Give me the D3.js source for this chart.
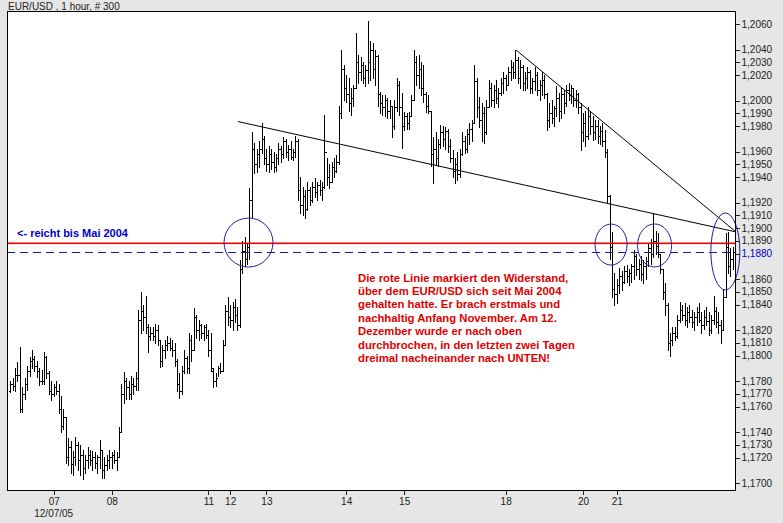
<!DOCTYPE html>
<html><head><meta charset="utf-8">
<script src="https://cdn.jsdelivr.net/npm/d3@7"></script>
<style>body{margin:0;background:#e6e6e6;} svg{display:block;font-family:"Liberation Sans",Arial,sans-serif;}</style>
</head><body><svg id="chart" width="783" height="523"></svg>
<script>
const title = "EUR/USD , 1 hour, # 300";
const highs = [
1.1780,1.1782,1.1790,1.1795,1.1807,1.1775,1.1782,1.1792,1.1799,1.1804,
1.1800,1.1796,1.1790,1.1789,1.1803,1.1800,1.1788,1.1780,1.1778,1.1780,
1.1778,1.1768,1.1758,1.1752,1.1735,1.1733,1.1725,1.1736,1.1732,1.1730,
1.1726,1.1722,1.1728,1.1726,1.1725,1.1724,1.1722,1.1734,1.1726,1.1720,
1.1722,1.1726,1.1724,1.1726,1.1724,1.1744,1.1778,1.1787,1.1782,1.1780,
1.1784,1.1782,1.1787,1.1836,1.1850,1.1840,1.1847,1.1825,1.1822,1.1822,
1.1825,1.1824,1.1812,1.1808,1.1812,1.1815,1.1814,1.1812,1.1810,1.1797,
1.1786,1.1792,1.1804,1.1800,1.1818,1.1816,1.1837,1.1832,1.1828,1.1825,
1.1824,1.1825,1.1820,1.1818,1.1790,1.1786,1.1792,1.1794,1.1812,1.1840,
1.1846,1.1840,1.1842,1.1844,1.1838,1.1875,1.1890,1.1893,1.1888,1.1931,
1.1975,1.1967,1.1962,1.1968,1.1982,1.1972,1.1962,1.1964,1.1962,1.1960,
1.1958,1.1967,1.1964,1.1971,1.1970,1.1965,1.1968,1.1962,1.1972,1.1970,
1.1940,1.1932,1.1930,1.1936,1.1932,1.1936,1.1939,1.1936,1.1938,1.1936,
1.1989,1.1955,1.1950,1.1952,1.1955,1.1957,1.1996,1.2040,1.2028,1.2020,
1.2018,1.2010,1.2012,1.2053,1.2036,1.2034,1.2030,1.2028,1.2062,1.2047,
1.2045,1.2040,1.2036,1.2007,1.2004,1.2004,1.2002,1.2000,1.1996,1.2000,
1.2018,1.2015,1.2006,1.1991,1.1990,1.1991,1.2004,1.2040,1.2035,1.2036,
1.2030,1.2028,1.2007,1.2004,1.1992,1.1971,1.1975,1.1970,1.1981,1.1980,
1.1979,1.1978,1.1970,1.1961,1.1955,1.1960,1.1962,1.1975,1.1972,1.1978,
1.1982,1.1985,1.2028,1.2018,1.2003,1.1998,1.1995,1.2000,1.2016,1.2014,
1.2012,1.2016,1.2010,1.2018,1.2022,1.2020,1.2026,1.2032,1.2030,1.2040,
1.2034,1.2032,1.2028,1.2022,1.2026,1.2024,1.2018,1.2026,1.2022,1.2016,
1.2022,1.2020,1.2006,1.1998,1.2000,1.1996,1.2011,1.2006,1.2010,1.2008,
1.2012,1.2014,1.2012,1.2010,1.2008,1.2006,1.1998,1.1990,1.1992,1.1995,
1.1992,1.1988,1.1985,1.1985,1.1980,1.1982,1.1977,1.1962,1.1926,1.1897,
1.1865,1.1860,1.1869,1.1866,1.1870,1.1871,1.1868,1.1872,1.1883,1.1880,
1.1876,1.1878,1.1875,1.1877,1.1888,1.1891,1.1912,1.1898,1.1896,1.1880,
1.1868,1.1857,1.1841,1.1818,1.1822,1.1822,1.1832,1.1842,1.1840,1.1841,
1.1838,1.1840,1.1836,1.1834,1.1838,1.1841,1.1834,1.1836,1.1838,1.1834,
1.1832,1.1847,1.1838,1.1834,1.1828,1.1851,1.1896,1.1897,1.1884,1.1885];
const lows = [
1.1771,1.1773,1.1772,1.1780,1.1756,1.1756,1.1766,1.1773,1.1784,1.1790,
1.1788,1.1783,1.1777,1.1778,1.1778,1.1782,1.1770,1.1765,1.1768,1.1770,
1.1755,1.1740,1.1742,1.1716,1.1714,1.1708,1.1706,1.1714,1.1710,1.1706,
1.1703,1.1708,1.1712,1.1714,1.1710,1.1712,1.1708,1.1712,1.1704,1.1704,
1.1710,1.1712,1.1712,1.1716,1.1710,1.1720,1.1740,1.1763,1.1766,1.1766,
1.1766,1.1770,1.1773,1.1773,1.1818,1.1820,1.1818,1.1803,1.1812,1.1812,
1.1810,1.1808,1.1791,1.1792,1.1798,1.1804,1.1804,1.1800,1.1792,1.1772,
1.1767,1.1770,1.1786,1.1786,1.1786,1.1796,1.1804,1.1814,1.1812,1.1814,
1.1812,1.1814,1.1800,1.1788,1.1775,1.1776,1.1784,1.1786,1.1788,1.1808,
1.1824,1.1822,1.1820,1.1826,1.1820,1.1822,1.1865,1.1870,1.1872,1.1876,
1.1909,1.1943,1.1944,1.1948,1.1959,1.1950,1.1945,1.1944,1.1946,1.1944,
1.1945,1.1950,1.1952,1.1955,1.1956,1.1953,1.1954,1.1953,1.1956,1.1922,
1.1912,1.1910,1.1908,1.1914,1.1918,1.1920,1.1924,1.1922,1.1926,1.1922,
1.1931,1.1934,1.1931,1.1936,1.1940,1.1944,1.1950,1.1986,1.2000,1.1999,
1.1992,1.1989,1.1996,1.2010,1.2014,1.2016,1.2014,1.2011,1.2014,1.2016,
1.2018,1.2012,1.1996,1.1990,1.1989,1.1988,1.1986,1.1986,1.1971,1.1978,
1.1992,1.1989,1.1963,1.1977,1.1978,1.1978,1.1988,1.2000,1.2012,1.2010,
1.2004,1.1999,1.1991,1.1990,1.1949,1.1935,1.1950,1.1949,1.1963,1.1964,
1.1962,1.1960,1.1952,1.1940,1.1935,1.1938,1.1940,1.1957,1.1959,1.1960,
1.1966,1.1968,1.1982,1.1987,1.1979,1.1968,1.1967,1.1974,1.1995,1.1996,
1.1995,1.1998,1.1995,1.2004,1.2006,1.2008,1.2012,1.2016,1.2018,1.2018,
1.2014,1.2010,1.2008,1.2008,1.2010,1.2006,1.2006,1.2008,1.2004,1.2000,
1.2004,1.2002,1.1977,1.1979,1.1982,1.1980,1.1988,1.1984,1.1986,1.1990,
1.1996,1.2000,1.1998,1.1996,1.1995,1.1990,1.1961,1.1968,1.1964,1.1970,
1.1974,1.1969,1.1970,1.1967,1.1966,1.1964,1.1956,1.1920,1.1876,1.1846,
1.1840,1.1841,1.1849,1.1851,1.1857,1.1858,1.1855,1.1858,1.1860,1.1863,
1.1860,1.1859,1.1857,1.1860,1.1870,1.1872,1.1877,1.1880,1.1877,1.1865,
1.1844,1.1832,1.1804,1.1800,1.1808,1.1812,1.1814,1.1826,1.1828,1.1824,
1.1822,1.1826,1.1822,1.1820,1.1824,1.1826,1.1818,1.1821,1.1824,1.1816,
1.1818,1.1825,1.1822,1.1818,1.1810,1.1820,1.1846,1.1865,1.1862,1.1868];
const opens = [
1.1772,1.1778,1.1776,1.1785,1.1785,1.1758,1.1770,1.1778,1.1788,1.1796,
1.1797,1.1792,1.1788,1.1780,1.1780,1.1799,1.1786,1.1772,1.1770,1.1775,
1.1772,1.1758,1.1745,1.1752,1.1720,1.1728,1.1715,1.1720,1.1730,1.1718,
1.1722,1.1712,1.1718,1.1722,1.1718,1.1720,1.1716,1.1720,1.1726,1.1710,
1.1714,1.1718,1.1720,1.1722,1.1718,1.1720,1.1740,1.1770,1.1780,1.1775,
1.1770,1.1778,1.1776,1.1782,1.1828,1.1835,1.1830,1.1822,1.1815,1.1818,
1.1815,1.1820,1.1812,1.1796,1.1804,1.1808,1.1810,1.1806,1.1804,1.1796,
1.1778,1.1772,1.1788,1.1798,1.1790,1.1812,1.1804,1.1830,1.1820,1.1824,
1.1818,1.1822,1.1816,1.1804,1.1788,1.1780,1.1782,1.1790,1.1788,1.1808,
1.1835,1.1830,1.1828,1.1838,1.1832,1.1824,1.1868,1.1882,1.1876,1.1885,
1.1922,1.1962,1.1950,1.1958,1.1962,1.1970,1.1955,1.1950,1.1958,1.1952,
1.1948,1.1955,1.1962,1.1958,1.1968,1.1960,1.1962,1.1956,1.1960,1.1968,
1.1930,1.1918,1.1925,1.1915,1.1930,1.1922,1.1932,1.1928,1.1934,1.1930,
1.1932,1.1960,1.1940,1.1936,1.1948,1.1945,1.1952,1.1990,1.2025,1.2010,
1.2005,1.1998,1.2002,1.2010,1.2030,1.2022,1.2028,1.2018,1.2024,1.2030,
1.2040,1.2025,1.2035,1.2005,1.1998,1.1995,1.2000,1.1992,1.1996,1.1980,
1.1995,1.2012,1.1995,1.1980,1.1988,1.1982,1.1988,1.2000,1.2030,1.2020,
1.2025,1.2010,1.2005,1.1996,1.1992,1.1958,1.1962,1.1955,1.1966,1.1975,
1.1970,1.1976,1.1964,1.1955,1.1945,1.1950,1.1942,1.1958,1.1968,1.1962,
1.1974,1.1978,1.1982,1.2015,1.1995,1.1985,1.1990,1.1975,1.1995,1.2010,
1.2000,1.2008,1.2002,1.2006,1.2014,1.2018,1.2012,1.2022,1.2026,1.2022,
1.2032,1.2018,1.2026,1.2014,1.2018,1.2022,1.2010,1.2015,1.2020,1.2008,
1.2012,1.2016,1.2005,1.1985,1.1990,1.1986,1.1994,1.2002,1.1992,1.2005,
1.1998,1.2008,1.2004,1.2010,1.2000,1.2005,1.1995,1.1975,1.1982,1.1972,
1.1988,1.1980,1.1975,1.1980,1.1972,1.1976,1.1968,1.1960,1.1925,1.1885,
1.1852,1.1848,1.1855,1.1862,1.1858,1.1866,1.1862,1.1865,1.1870,1.1878,
1.1868,1.1872,1.1864,1.1870,1.1874,1.1884,1.1880,1.1890,1.1886,1.1880,
1.1868,1.1850,1.1840,1.1810,1.1812,1.1818,1.1815,1.1828,1.1836,1.1832,
1.1828,1.1834,1.1830,1.1826,1.1830,1.1834,1.1828,1.1824,1.1830,1.1827,
1.1820,1.1828,1.1835,1.1826,1.1824,1.1820,1.1846,1.1885,1.1870,1.1876];
const closes = [
1.1778,1.1776,1.1785,1.1785,1.1758,1.1770,1.1778,1.1788,1.1796,1.1797,
1.1792,1.1788,1.1780,1.1780,1.1799,1.1786,1.1772,1.1770,1.1775,1.1772,
1.1758,1.1745,1.1752,1.1720,1.1728,1.1715,1.1720,1.1730,1.1718,1.1722,
1.1712,1.1718,1.1722,1.1718,1.1720,1.1716,1.1720,1.1726,1.1710,1.1714,
1.1718,1.1720,1.1722,1.1718,1.1720,1.1740,1.1770,1.1780,1.1775,1.1770,
1.1778,1.1776,1.1782,1.1828,1.1835,1.1830,1.1822,1.1815,1.1818,1.1815,
1.1820,1.1812,1.1796,1.1804,1.1808,1.1810,1.1806,1.1804,1.1796,1.1778,
1.1772,1.1788,1.1798,1.1790,1.1812,1.1804,1.1830,1.1820,1.1824,1.1818,
1.1822,1.1816,1.1804,1.1790,1.1780,1.1782,1.1790,1.1788,1.1808,1.1835,
1.1830,1.1828,1.1838,1.1832,1.1824,1.1868,1.1882,1.1876,1.1885,1.1922,
1.1962,1.1950,1.1958,1.1962,1.1970,1.1955,1.1950,1.1958,1.1952,1.1948,
1.1955,1.1962,1.1958,1.1968,1.1960,1.1962,1.1956,1.1960,1.1968,1.1930,
1.1918,1.1925,1.1915,1.1930,1.1922,1.1932,1.1928,1.1934,1.1930,1.1932,
1.1960,1.1940,1.1936,1.1948,1.1945,1.1952,1.1990,1.2025,1.2010,1.2005,
1.1998,1.2002,1.2010,1.2030,1.2022,1.2028,1.2018,1.2024,1.2030,1.2040,
1.2025,1.2035,1.2005,1.1998,1.1995,1.2000,1.1992,1.1996,1.1980,1.1995,
1.2012,1.1995,1.1980,1.1988,1.1982,1.1988,1.2000,1.2030,1.2020,1.2025,
1.2010,1.2005,1.1996,1.1992,1.1958,1.1962,1.1955,1.1966,1.1975,1.1970,
1.1976,1.1964,1.1955,1.1945,1.1950,1.1942,1.1958,1.1968,1.1962,1.1974,
1.1978,1.1982,1.2015,1.1995,1.1985,1.1990,1.1975,1.1995,1.2010,1.2000,
1.2008,1.2002,1.2006,1.2014,1.2018,1.2012,1.2022,1.2026,1.2022,1.2032,
1.2018,1.2026,1.2014,1.2018,1.2022,1.2010,1.2015,1.2020,1.2008,1.2012,
1.2016,1.2005,1.1985,1.1990,1.1986,1.1994,1.2002,1.1992,1.2005,1.1998,
1.2008,1.2004,1.2010,1.2000,1.2005,1.1995,1.1975,1.1982,1.1972,1.1988,
1.1980,1.1975,1.1980,1.1972,1.1976,1.1968,1.1960,1.1925,1.1885,1.1852,
1.1848,1.1855,1.1862,1.1858,1.1866,1.1862,1.1865,1.1870,1.1878,1.1868,
1.1872,1.1864,1.1870,1.1874,1.1884,1.1880,1.1890,1.1886,1.1880,1.1868,
1.1850,1.1840,1.1810,1.1812,1.1818,1.1815,1.1828,1.1836,1.1832,1.1828,
1.1834,1.1830,1.1826,1.1830,1.1834,1.1828,1.1824,1.1830,1.1827,1.1820,
1.1828,1.1835,1.1826,1.1824,1.1820,1.1846,1.1885,1.1870,1.1876,1.1881];

const dayTickIndex = [18, 42, 82, 91, 106, 139, 163, 205, 237, 251];
const dayTickLabels = ["07","08","11","12","13","14","15","18","20","21"];
const dateLabel = "12/07/05";
const priceTicks = [1.2060,1.2040,1.2030,1.2020,1.2000,1.1990,1.1980,1.1960,1.1950,1.1940,
  1.1920,1.1910,1.1900,1.1890,1.1880,1.1860,1.1850,1.1840,1.1820,1.1810,1.1800,
  1.1780,1.1770,1.1760,1.1740,1.1730,1.1720,1.1700];
const highlightTick = 1.1880;
const resistanceLevel = 1.18885;
const currentLevel = 1.1881;
// trend lines as [barIndex, price] pairs
const trendLine1 = [[94.2, 1.19835], [300.3, 1.18969]];
const trendLine2 = [[209.3, 1.20396], [300.3, 1.18969]];
// circled areas: [barIndex, price]
const circleCenters = [[98.6, 1.18886], [248.6, 1.18870], [266.6, 1.18863], [295.9, 1.18816]];
const leftNote = "<- reicht bis Mai 2004";
const noteLines = [
  "Die rote Linie markiert den Widerstand,",
  "über dem EUR/USD sich seit Mai 2004",
  "gehalten hatte. Er brach erstmals und",
  "nachhaltig Anfang November. Am 12.",
  "Dezember wurde er nach oben",
  "durchbrochen, in den letzten zwei Tagen",
  "dreimal nacheinander nach UNTEN!"
];

// ---------- drawing ----------
const W = 783, H = 523;
const plot = {left: 7, right: 736, top: 11, bottom: 491};
const svg = d3.select("#chart");
svg.append("rect").attr("width", W).attr("height", H).attr("fill", "#e6e6e6");
svg.append("rect").attr("x", plot.left).attr("y", plot.top)
  .attr("width", plot.right - plot.left).attr("height", plot.bottom - plot.top)
  .attr("fill", "#fff");

const x = d3.scaleLinear().domain([-1.33, 300.3]).range([plot.left, plot.right]);
const y = d3.scaleLinear().domain([1.1700, 1.2060]).range([483, 24]);
const ry = v => Math.round(y(v)) + 0.5;

// OHLC bars
const bars = svg.append("g").attr("stroke", "#000").attr("stroke-width", 1)
  .attr("shape-rendering", "crispEdges").attr("fill", "none");
bars.selectAll("path").data(d3.range(highs.length)).join("path")
  .attr("d", i => {
    const px = Math.round(x(i));
    const xc = px + 0.5;
    let yh = ry(highs[i]), yl = ry(lows[i]);
    if (yl - yh < 1) yl = yh + 1;
    return `M${xc},${yh - 0.5}V${yl + 0.5}` +
      `M${px - 1},${ry(opens[i])}H${px}` +
      `M${px + 1},${ry(closes[i])}H${px + 2}`;
  });

// horizontal lines
const redY = Math.round(y(resistanceLevel));
svg.append("rect").attr("x", plot.left).attr("width", plot.right - plot.left)
  .attr("y", redY - 0.5).attr("height", 1.6).attr("fill", "#ee0000");
svg.append("line").attr("x1", plot.left).attr("x2", plot.right)
  .attr("y1", ry(currentLevel)).attr("y2", ry(currentLevel))
  .attr("stroke", "#1c1c7a").attr("stroke-width", 1).attr("stroke-dasharray", "8,5")
  .attr("shape-rendering", "crispEdges");

// trend lines
const lineGen = d3.line().x(d => x(d[0])).y(d => y(d[1]));
[trendLine1, trendLine2].forEach(tl => {
  svg.append("path").attr("d", lineGen(tl)).attr("stroke", "#000")
    .attr("stroke-width", 1).attr("fill", "none");
});

// circles
const circleRadii = [[24.5, 24.5], [16, 20.5], [17, 21.5], [14.5, 38.5]];
svg.append("g").selectAll("ellipse").data(circleCenters).join("ellipse")
  .attr("cx", d => x(d[0])).attr("cy", d => y(d[1]))
  .attr("rx", (d, i) => circleRadii[i][0]).attr("ry", (d, i) => circleRadii[i][1])
  .attr("fill", "none").attr("stroke", "#2020a0").attr("stroke-width", 1);

// frame
svg.append("rect").attr("x", plot.left + 0.5).attr("y", plot.top + 0.5)
  .attr("width", plot.right - plot.left - 1).attr("height", plot.bottom - plot.top - 1)
  .attr("fill", "none").attr("stroke", "#000").attr("shape-rendering", "crispEdges");

// y axis
const loc = d3.formatLocale({decimal: ",", thousands: ".", grouping: [3], currency: ["", ""]});
const fmt = loc.format(".4f");
const yAxis = svg.append("g").attr("transform", `translate(${plot.right - 0.5},0)`)
  .call(d3.axisRight(y).tickValues(priceTicks).tickSize(4).tickPadding(2).tickFormat(fmt));
yAxis.select(".domain").remove();
yAxis.attr("font-family", '"Liberation Sans", Arial, sans-serif').attr("font-size", 10);
yAxis.selectAll("line").attr("stroke", "#222").attr("shape-rendering", "crispEdges");
yAxis.selectAll("text").attr("fill", d => Math.abs(d - highlightTick) < 1e-7 ? "#0000c8" : "#222");

// x axis
const xAxis = svg.append("g").attr("transform", `translate(0,${plot.bottom - 0.5})`)
  .call(d3.axisBottom(x).tickValues(dayTickIndex).tickSize(4).tickPadding(3)
    .tickFormat((d, i) => dayTickLabels[i]));
xAxis.select(".domain").remove();
xAxis.attr("font-family", '"Liberation Sans", Arial, sans-serif').attr("font-size", 10);
xAxis.selectAll("line").attr("stroke", "#222").attr("shape-rendering", "crispEdges");
xAxis.selectAll("text").attr("fill", "#222");
svg.append("text").attr("x", x(dayTickIndex[0])).attr("y", 517)
  .attr("text-anchor", "middle").attr("font-size", 10).attr("fill", "#222").text(dateLabel);

// title
svg.append("text").attr("x", 8).attr("y", 10).attr("font-size", 10)
  .attr("fill", "#222").text(title);

// notes
svg.append("text").attr("x", 17).attr("y", 237).attr("font-size", 11)
  .attr("font-weight", "bold").attr("fill", "#0000c8").text(leftNote);
svg.append("g").selectAll("text").data(noteLines).join("text")
  .attr("x", 358).attr("y", (d, i) => 281.5 + i * 13.4)
  .attr("font-size", 11.3).attr("font-weight", "bold").attr("fill", "#e00000")
  .text(d => d);
</script>
</body></html>
